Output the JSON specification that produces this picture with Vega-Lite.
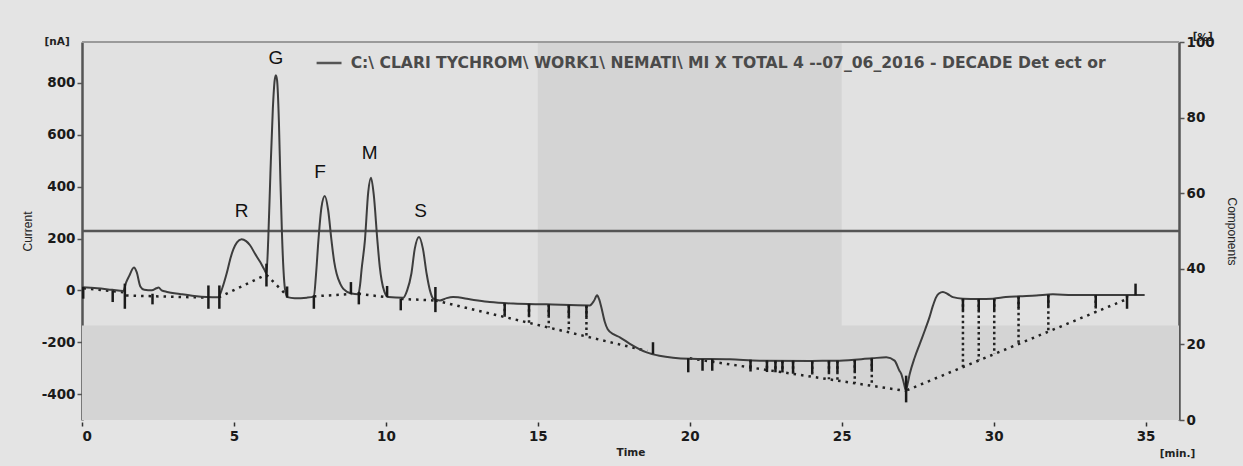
{
  "$schema": "https://vega.github.io/schema/vega-lite/v6.json",
  "width": 1097,
  "height": 378,
  "autosize": {"type": "none"},
  "padding": {"left": 82, "top": 42, "right": 64, "bottom": 46},
  "background": "#e4e4e4",
  "view": {"fill": "#e1e1e1", "stroke": null},
  "config": {
    "font": "Liberation Sans",
    "axis": {"labelFont": "DejaVu Sans", "labelFontWeight": "bold", "labelFontSize": 13.5, "labelColor": "#1a1a1a", "grid": false, "titleFont": "Liberation Sans", "titleFontWeight": "normal", "titleFontSize": 12, "titleColor": "#222"}
  },
  "datasets": {
    "bands": [
      {"x1": 15, "x2": 25, "p1": 0, "p2": 100},
      {"x1": 0, "x2": 36.1, "p1": 0, "p2": 25}
    ],
    "comp": [
      {"t": 0, "p": 50}, {"t": 36.1, "p": 50}
    ],
    "frame": [
      {"t": 0, "p": 100}, {"t": 36.1, "p": 100}
    ],
    "trace": [
      {"t": 0.0, "v": 12}, {"t": 0.5, "v": 8}, {"t": 1.0, "v": 2}, {"t": 1.36, "v": -2}, {"t": 1.45, "v": 30},
      {"t": 1.55, "v": 55}, {"t": 1.71, "v": 88}, {"t": 1.8, "v": 70}, {"t": 1.92, "v": 15}, {"t": 2.05, "v": 2},
      {"t": 2.3, "v": 0}, {"t": 2.45, "v": 8}, {"t": 2.52, "v": 11}, {"t": 2.62, "v": 0}, {"t": 2.8, "v": -6},
      {"t": 3.22, "v": -14}, {"t": 3.7, "v": -22}, {"t": 4.1, "v": -26}, {"t": 4.48, "v": -27}, {"t": 4.62, "v": 10},
      {"t": 4.76, "v": 65}, {"t": 4.9, "v": 130}, {"t": 4.98, "v": 158}, {"t": 5.1, "v": 185}, {"t": 5.25, "v": 197},
      {"t": 5.4, "v": 190}, {"t": 5.53, "v": 174}, {"t": 5.7, "v": 140}, {"t": 5.86, "v": 110}, {"t": 6.0, "v": 80},
      {"t": 6.07, "v": 65}, {"t": 6.13, "v": 200}, {"t": 6.2, "v": 450}, {"t": 6.28, "v": 700}, {"t": 6.34, "v": 810},
      {"t": 6.38, "v": 830}, {"t": 6.42, "v": 810}, {"t": 6.48, "v": 650}, {"t": 6.53, "v": 420}, {"t": 6.58, "v": 220},
      {"t": 6.63, "v": 80}, {"t": 6.68, "v": 5}, {"t": 6.76, "v": -26}, {"t": 7.0, "v": -30}, {"t": 7.4, "v": -28},
      {"t": 7.63, "v": -24}, {"t": 7.7, "v": 60}, {"t": 7.78, "v": 193}, {"t": 7.88, "v": 320}, {"t": 7.99, "v": 364},
      {"t": 8.1, "v": 310}, {"t": 8.21, "v": 193}, {"t": 8.3, "v": 110}, {"t": 8.38, "v": 64}, {"t": 8.5, "v": 25},
      {"t": 8.6, "v": 6}, {"t": 8.87, "v": -12}, {"t": 9.09, "v": -15}, {"t": 9.15, "v": 20}, {"t": 9.2, "v": 80},
      {"t": 9.31, "v": 193}, {"t": 9.42, "v": 380}, {"t": 9.51, "v": 434}, {"t": 9.6, "v": 370}, {"t": 9.72, "v": 193},
      {"t": 9.8, "v": 90}, {"t": 9.86, "v": 39}, {"t": 9.95, "v": -5}, {"t": 10.08, "v": -26}, {"t": 10.57, "v": -28},
      {"t": 10.7, "v": 0}, {"t": 10.84, "v": 65}, {"t": 10.95, "v": 160}, {"t": 11.09, "v": 206}, {"t": 11.22, "v": 160},
      {"t": 11.34, "v": 65}, {"t": 11.45, "v": 0}, {"t": 11.56, "v": -32}, {"t": 11.78, "v": -39}, {"t": 12.0, "v": -30},
      {"t": 12.21, "v": -26}, {"t": 12.8, "v": -35}, {"t": 13.42, "v": -45}, {"t": 14.19, "v": -51}, {"t": 15.28, "v": -54},
      {"t": 16.71, "v": -58}, {"t": 16.85, "v": -40}, {"t": 16.95, "v": -19}, {"t": 17.02, "v": -35}, {"t": 17.09, "v": -65},
      {"t": 17.2, "v": -120}, {"t": 17.3, "v": -150}, {"t": 17.5, "v": -170}, {"t": 17.7, "v": -181}, {"t": 18.03, "v": -206},
      {"t": 18.58, "v": -239}, {"t": 19.0, "v": -252}, {"t": 19.45, "v": -260}, {"t": 20.0, "v": -264}, {"t": 21.32, "v": -266},
      {"t": 22.3, "v": -271}, {"t": 24.0, "v": -272}, {"t": 24.93, "v": -271}, {"t": 26.0, "v": -262}, {"t": 26.47, "v": -258},
      {"t": 26.74, "v": -271}, {"t": 26.9, "v": -310}, {"t": 26.96, "v": -322}, {"t": 27.05, "v": -360}, {"t": 27.11, "v": -385},
      {"t": 27.17, "v": -360}, {"t": 27.24, "v": -322}, {"t": 27.4, "v": -260}, {"t": 27.57, "v": -206}, {"t": 27.75, "v": -150},
      {"t": 27.89, "v": -103}, {"t": 28.0, "v": -60}, {"t": 28.11, "v": -26}, {"t": 28.2, "v": -12}, {"t": 28.33, "v": -6},
      {"t": 28.5, "v": -15}, {"t": 28.66, "v": -26}, {"t": 28.99, "v": -32}, {"t": 29.5, "v": -33}, {"t": 29.98, "v": -32},
      {"t": 30.4, "v": -26}, {"t": 30.86, "v": -23}, {"t": 31.4, "v": -20}, {"t": 31.95, "v": -15}, {"t": 32.6, "v": -18},
      {"t": 33.38, "v": -18}, {"t": 34.2, "v": -18}, {"t": 34.97, "v": -18}
    ],
    "base": [
      {"seg": "a1", "t": 0.05, "v": 8}, {"seg": "a1", "t": 1.4, "v": -8},
      {"seg": "a2", "t": 1.45, "v": -20}, {"seg": "a2", "t": 4.15, "v": -28},
      {"seg": "b", "t": 4.5, "v": -27}, {"seg": "b", "t": 6.05, "v": 60},
      {"seg": "c", "t": 6.07, "v": 60}, {"seg": "c", "t": 6.76, "v": -22},
      {"seg": "d", "t": 7.63, "v": -23}, {"seg": "d", "t": 8.87, "v": -14},
      {"seg": "e", "t": 9.1, "v": -13}, {"seg": "e", "t": 10.05, "v": -27},
      {"seg": "f", "t": 10.5, "v": -33}, {"seg": "f", "t": 11.63, "v": -39},
      {"seg": "g", "t": 11.63, "v": -39}, {"seg": "g", "t": 18.6, "v": -234},
      {"seg": "h", "t": 20.0, "v": -262}, {"seg": "h", "t": 27.12, "v": -388},
      {"seg": "i", "t": 27.15, "v": -385}, {"seg": "i", "t": 34.42, "v": -32}
    ],
    "drops": [
      {"t": 13.91, "a": -50, "b": -103}, {"t": 14.71, "a": -52, "b": -125}, {"t": 15.36, "a": -54, "b": -143},
      {"t": 16.02, "a": -56, "b": -162}, {"t": 16.6, "a": -58, "b": -178},
      {"t": 20.42, "a": -265, "b": -269}, {"t": 20.74, "a": -265, "b": -275}, {"t": 22.0, "a": -268, "b": -297},
      {"t": 22.54, "a": -270, "b": -307}, {"t": 22.82, "a": -271, "b": -312}, {"t": 23.05, "a": -271, "b": -316},
      {"t": 23.4, "a": -271, "b": -322}, {"t": 24.03, "a": -272, "b": -333}, {"t": 24.58, "a": -271, "b": -343},
      {"t": 24.86, "a": -271, "b": -348}, {"t": 25.43, "a": -268, "b": -358}, {"t": 25.99, "a": -262, "b": -368},
      {"t": 28.99, "a": -32, "b": -296}, {"t": 29.51, "a": -33, "b": -270}, {"t": 30.02, "a": -32, "b": -245},
      {"t": 30.82, "a": -23, "b": -206}, {"t": 31.8, "a": -17, "b": -159}, {"t": 33.36, "a": -18, "b": -83},
      {"t": 34.39, "a": -18, "b": -33}
    ],
    "marks": [
      {"t": 0.04, "a": 13, "b": -32}, {"t": 1.01, "a": 0, "b": -45}, {"t": 1.41, "a": 26, "b": -71},
      {"t": 2.32, "a": -13, "b": -54}, {"t": 4.16, "a": 19, "b": -71}, {"t": 4.52, "a": 19, "b": -71},
      {"t": 6.07, "a": 103, "b": 15}, {"t": 6.75, "a": 15, "b": -28}, {"t": 7.63, "a": -19, "b": -71},
      {"t": 8.85, "a": 32, "b": -15}, {"t": 9.11, "a": -6, "b": -54}, {"t": 10.04, "a": 17, "b": -26},
      {"t": 10.49, "a": -32, "b": -77}, {"t": 11.63, "a": 13, "b": -84},
      {"t": 13.91, "a": -50, "b": -95}, {"t": 14.71, "a": -52, "b": -97}, {"t": 15.36, "a": -54, "b": -99},
      {"t": 16.02, "a": -56, "b": -101}, {"t": 16.6, "a": -58, "b": -103}, {"t": 18.79, "a": -200, "b": -245},
      {"t": 19.95, "a": -262, "b": -316}, {"t": 20.42, "a": -265, "b": -310}, {"t": 20.74, "a": -265, "b": -310},
      {"t": 22.0, "a": -268, "b": -313}, {"t": 22.54, "a": -270, "b": -315}, {"t": 22.82, "a": -271, "b": -316},
      {"t": 23.05, "a": -271, "b": -316}, {"t": 23.4, "a": -271, "b": -316}, {"t": 24.03, "a": -272, "b": -317},
      {"t": 24.58, "a": -271, "b": -316}, {"t": 24.86, "a": -271, "b": -316}, {"t": 25.43, "a": -268, "b": -313},
      {"t": 25.99, "a": -262, "b": -307}, {"t": 27.12, "a": -329, "b": -432},
      {"t": 28.99, "a": -32, "b": -77}, {"t": 29.51, "a": -33, "b": -78}, {"t": 30.02, "a": -32, "b": -77},
      {"t": 30.82, "a": -23, "b": -68}, {"t": 31.8, "a": -17, "b": -62}, {"t": 33.36, "a": -18, "b": -63},
      {"t": 34.39, "a": -19, "b": -71}, {"t": 34.67, "a": 26, "b": -19}
    ],
    "labels": [
      {"name": "R", "t": 5.25, "v": 306}, {"name": "G", "t": 6.38, "v": 896}, {"name": "F", "t": 7.83, "v": 458},
      {"name": "M", "t": 9.47, "v": 529}, {"name": "S", "t": 11.14, "v": 307}
    ],
    "legendline": [
      {"t": 7.72, "v": 877}, {"t": 8.54, "v": 877}
    ],
    "legendtext": [
      {"t": 8.84, "v": 877, "text": "C:\\ CLARI TYCHROM\\ WORK1\\ NEMATI\\ MI X TOTAL 4 --07_06_2016 - DECADE Det ect or"}
    ],
    "units": [
      {"t": -0.82, "v": 959, "text": "[nA]"},
      {"t": 36.05, "v": -630, "text": "[min.]"}
    ],
    "units2": [
      {"t": 36.88, "v": 982, "text": "[%]"}
    ]
  },
  "resolve": {"scale": {"y": "independent"}},
  "layer": [
    {
      "data": {"name": "bands"},
      "mark": {"type": "rect", "fill": "#d4d4d4"},
      "encoding": {
        "x": {"field": "x1", "type": "quantitative", "scale": {"domain": [0, 36.1], "nice": false, "zero": false}, "axis": {"values": [0, 5, 10, 15, 20, 25, 30, 35], "domain": false, "tickSize": 4, "tickWidth": 1.5, "tickColor": "#333", "offset": 2, "labelPadding": 3, "title": "Time", "titleFont": "DejaVu Sans", "titleFontWeight": "bold", "titleFontSize": 10.5, "titlePadding": 5}},
        "x2": {"field": "x2"},
        "y": {"field": "p1", "type": "quantitative", "scale": {"domain": [0, 100], "nice": false}, "axis": {"orient": "right", "values": [0, 20, 40, 60, 80, 100], "domainColor": "#555", "domainWidth": 2.5, "tickColor": "#555", "tickWidth": 1.5, "tickSize": 5, "labelPadding": 2, "title": "Components", "titlePadding": 10}},
        "y2": {"field": "p2"}
      }
    },
    {
      "data": {"name": "frame"},
      "mark": {"type": "line", "stroke": "#9a9a9a", "strokeWidth": 2},
      "encoding": {
        "x": {"field": "t", "type": "quantitative"},
        "y": {"field": "p", "type": "quantitative", "scale": {"domain": [0, 100], "nice": false}, "axis": null}
      }
    },
    {
      "data": {"name": "comp"},
      "mark": {"type": "line", "stroke": "#555", "strokeWidth": 2.5},
      "encoding": {
        "x": {"field": "t", "type": "quantitative"},
        "y": {"field": "p", "type": "quantitative", "scale": {"domain": [0, 100], "nice": false}, "axis": null}
      }
    },
    {
      "data": {"name": "base"},
      "mark": {"type": "line", "stroke": "#222", "strokeWidth": 2.5, "strokeDash": [2.5, 5]},
      "encoding": {
        "x": {"field": "t", "type": "quantitative"},
        "y": {"field": "v", "type": "quantitative", "scale": {"domain": [-500, 958], "nice": false}, "axis": null},
        "detail": {"field": "seg"}
      }
    },
    {
      "data": {"name": "drops"},
      "mark": {"type": "rule", "stroke": "#222", "strokeWidth": 2.5, "strokeDash": [2.5, 3]},
      "encoding": {
        "x": {"field": "t", "type": "quantitative"},
        "y": {"field": "a", "type": "quantitative", "scale": {"domain": [-500, 958], "nice": false}, "axis": null},
        "y2": {"field": "b"}
      }
    },
    {
      "data": {"name": "trace"},
      "mark": {"type": "line", "stroke": "#3d3d3d", "strokeWidth": 2, "interpolate": "monotone"},
      "encoding": {
        "x": {"field": "t", "type": "quantitative"},
        "y": {"field": "v", "type": "quantitative", "scale": {"domain": [-500, 958], "nice": false}, "axis": {"orient": "left", "values": [-400, -200, 0, 200, 400, 600, 800], "labelExpr": "replace(datum.label, '\u2212', '-')", "domainColor": "#555", "domainWidth": 2.5, "tickColor": "#555", "tickWidth": 1.5, "tickSize": 5, "labelPadding": 2, "title": "Current", "titlePadding": 7}}
      }
    },
    {
      "data": {"name": "marks"},
      "mark": {"type": "rule", "stroke": "#1a1a1a", "strokeWidth": 2.5},
      "encoding": {
        "x": {"field": "t", "type": "quantitative"},
        "y": {"field": "a", "type": "quantitative", "scale": {"domain": [-500, 958], "nice": false}, "axis": null},
        "y2": {"field": "b"}
      }
    },
    {
      "data": {"name": "labels"},
      "mark": {"type": "text", "font": "Liberation Sans", "fontSize": 19, "color": "#111", "align": "center", "baseline": "middle"},
      "encoding": {
        "x": {"field": "t", "type": "quantitative"},
        "y": {"field": "v", "type": "quantitative", "scale": {"domain": [-500, 958], "nice": false}, "axis": null},
        "text": {"field": "name"}
      }
    },
    {
      "data": {"name": "legendline"},
      "mark": {"type": "line", "stroke": "#555", "strokeWidth": 2.5},
      "encoding": {
        "x": {"field": "t", "type": "quantitative"},
        "y": {"field": "v", "type": "quantitative", "scale": {"domain": [-500, 958], "nice": false}, "axis": null}
      }
    },
    {
      "data": {"name": "legendtext"},
      "mark": {"type": "text", "font": "DejaVu Sans", "fontWeight": "bold", "fontSize": 15.6, "color": "#4a4a4a", "align": "left", "baseline": "middle"},
      "encoding": {
        "x": {"field": "t", "type": "quantitative"},
        "y": {"field": "v", "type": "quantitative", "scale": {"domain": [-500, 958], "nice": false}, "axis": null},
        "text": {"field": "text"}
      }
    },
    {
      "data": {"name": "units"},
      "mark": {"type": "text", "font": "DejaVu Sans", "fontWeight": "bold", "fontSize": 10.5, "color": "#222", "align": "center", "baseline": "middle"},
      "encoding": {
        "x": {"field": "t", "type": "quantitative"},
        "y": {"field": "v", "type": "quantitative", "scale": {"domain": [-500, 958], "nice": false}, "axis": null},
        "text": {"field": "text"}
      }
    },
    {
      "data": {"name": "units2"},
      "mark": {"type": "text", "font": "DejaVu Sans", "fontWeight": "bold", "fontSize": 10.5, "color": "#222", "align": "center", "baseline": "middle", "angle": 180},
      "encoding": {
        "x": {"field": "t", "type": "quantitative"},
        "y": {"field": "v", "type": "quantitative", "scale": {"domain": [-500, 958], "nice": false}, "axis": null},
        "text": {"field": "text"}
      }
    }
  ]
}
